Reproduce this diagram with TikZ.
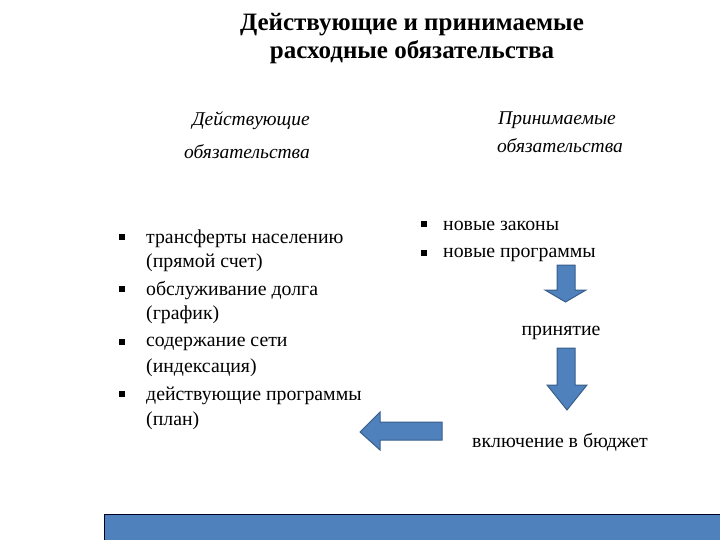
\documentclass[tikz,border=0pt]{standalone}
\usepackage{fontspec}
\setmainfont{Liberation Serif}
\usetikzlibrary{shapes.arrows}
\definecolor{bluefill}{HTML}{4F81BD}
\definecolor{blueline}{HTML}{385D8A}
\begin{document}
\begin{tikzpicture}[x=1pt,y=-1pt,
  body/.style={inner sep=0pt, anchor=west, font=\fontsize{19.8}{22}\selectfont},
  ital/.style={inner sep=0pt, font=\fontsize{19.5}{22}\itshape},
  bul/.style={fill=black, minimum size=6pt, inner sep=0pt},
  blk/.style={fill=bluefill, draw=blueline, line width=1pt, line join=miter}]
\useasboundingbox (0,0) rectangle (720,540);
% title
\node[inner sep=0pt, align=center, font=\fontsize{25}{28}\bfseries\selectfont] (title) at (412,39)
  {Действующие и принимаемые\\расходные обязательства};
% column headings
\node[ital, anchor=east] (h1a) at (310,121) {Действующие};
\node[ital, anchor=east] (h1b) at (310,152) {обязательства};
\node[ital, anchor=west] (h2a) at (498,120) {Принимаемые};
\node[ital, anchor=west] (h2b) at (497,146) {обязательства};
% left list
\node[bul] (b1) at (122,237) {};
\node[body] (l1) at (146,239) {трансферты населению};
\node[body] (l1b) at (146,263) {(прямой счет)};
\node[bul] (b2) at (122,289) {};
\node[body] (l2) at (146,291) {обслуживание долга};
\node[body] (l2b) at (146,315) {(график)};
\node[bul] (b3) at (122,342) {};
\node[body] (l3) at (146,344) {содержание сети};
\node[body] (l3b) at (146,368) {(индексация)};
\node[bul] (b4) at (122,394) {};
\node[body] (l4) at (146,396) {действующие программы};
\node[body] (l4b) at (146,421) {(план)};
% right list
\node[bul] (r1b) at (424,224) {};
\node[body] (r1) at (443,226) {новые законы};
\node[bul] (r2b) at (424,253) {};
\node[body] (r2) at (443,255) {новые программы};
\node[body, anchor=center] (acc) at (561,333) {принятие};
\node[body, anchor=center] (inc) at (560,442) {включение в бюджет};
% block arrows
\draw[blk] (557,265) -- (575,265) -- (575,290) -- (586,290) -- (565.5,302) -- (545,290) -- (557,290) -- cycle;
\draw[blk] (557,348) -- (575,348) -- (575,385) -- (587,385) -- (567,410) -- (547,385) -- (557,385) -- cycle;
\draw[blk] (442,422) -- (442,440) -- (380,440) -- (380,450) -- (360,432) -- (380,412) -- (380,422) -- cycle;
% bottom bar
\draw[fill=bluefill, draw=black!85!blue, line width=1pt] (104,514) rectangle (721,541);
\end{tikzpicture}
\end{document}
